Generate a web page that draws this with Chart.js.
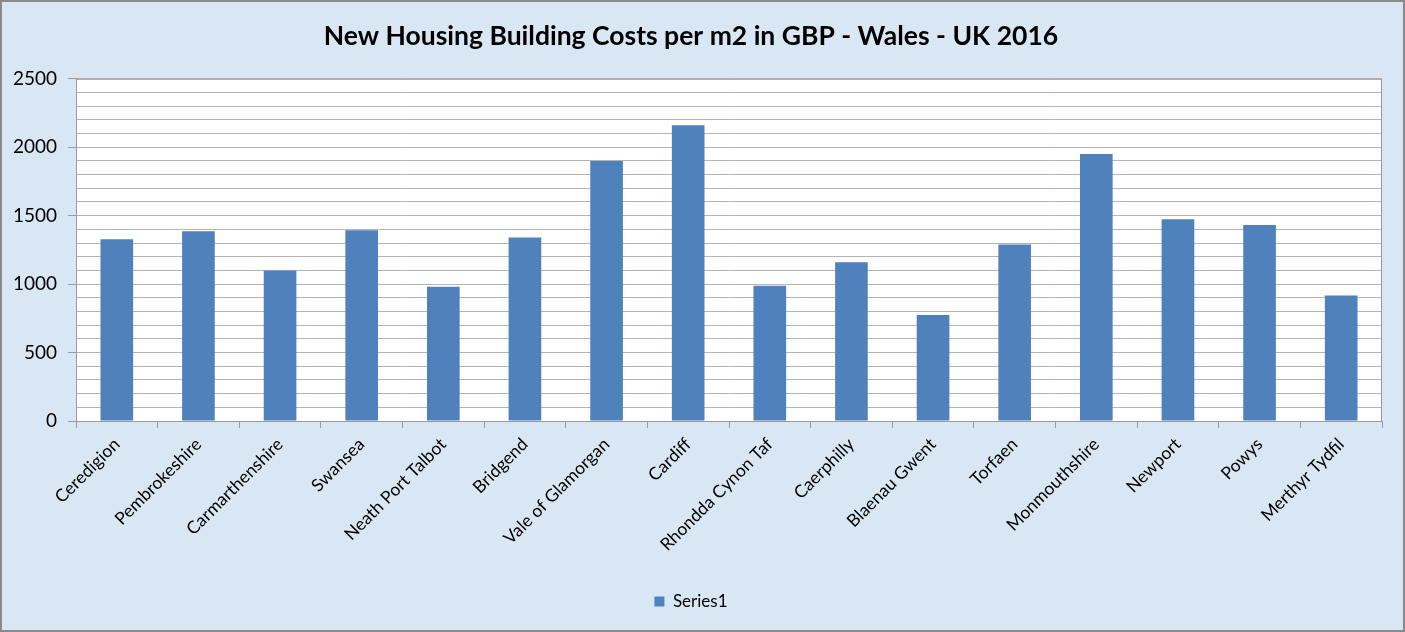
<!DOCTYPE html>
<html>
<head>
<meta charset="utf-8">
<script src="https://cdn.jsdelivr.net/npm/chart.js@4/dist/chart.umd.min.js"></script>
<style>
  body { margin: 0; background: #d9e7f5; }
  #wrap { width: 1405px; height: 632px; }
</style>
</head>
<body>
<div id="wrap"><canvas id="myChart" width="1405" height="632"></canvas></div>
<script>
    //categories and values
    let councils = ['Ceredigion', 'Pembrokeshire', 'Carmarthenshire', 'Swansea', 'Neath Port Talbot', 'Bridgend',
        'Vale of Glamorgan', 'Cardiff', 'Rhondda Cynon Taf', 'Caerphilly', 'Blaenau Gwent', 'Torfaen',
        'Monmouthshire', 'Newport', 'Powys', 'Merthyr Tydfil'];
    let costs = [1328, 1387, 1100, 1393, 980, 1340, 1900, 2160, 988, 1160, 775, 1290, 1950, 1474, 1431, 916];
    let yLabels = [0, 500, 1000, 1500, 2000, 2500];

    let fontName = 'Lato, "Open Sans", sans-serif';

    //paint page background, plot area and frames
    let framePlugin = {
        id: 'frame',
        beforeDraw(chart) {
            let c = chart.ctx;
            let a = chart.chartArea;
            c.save();
            c.fillStyle = '#d9e7f5';
            c.fillRect(0, 0, chart.width, chart.height);
            c.fillStyle = '#ffffff';
            c.fillRect(a.left, a.top, a.right - a.left, a.bottom - a.top);
            c.restore();
        },
        afterDraw(chart) {
            let c = chart.ctx;
            let a = chart.chartArea;
            c.save();
            c.strokeStyle = '#9a9a9a';
            c.lineWidth = 1;
            c.strokeRect(a.left + 0.5, a.top + 0.5, a.right - a.left - 1, a.bottom - a.top);
            c.strokeStyle = '#8a8a8a';
            c.lineWidth = 2;
            c.strokeRect(1, 1, chart.width - 2, chart.height - 2);
            c.restore();
        }
    };

    let ctx = document.getElementById('myChart').getContext('2d');

    let myChart = new Chart(ctx, {
        type: 'bar',
        data: {
            labels: councils,
            datasets: [{
                label: 'Series1',
                data: costs,
                backgroundColor: '#4f81bd',
                barPercentage: 0.4,
                categoryPercentage: 1.0
            }]
        },
        options: {
            responsive: false,
            animation: false,
            layout: { padding: { left: 0, right: 23, top: 0, bottom: 12 } },
            plugins: {
                title: {
                    display: true,
                    text: 'New Housing Building Costs per m2 in GBP - Wales - UK 2016',
                    color: '#000000',
                    font: { family: fontName, size: 26.5, weight: 'bold' },
                    padding: { top: 21, bottom: 26 }
                },
                legend: {
                    position: 'bottom',
                    labels: {
                        color: '#000000',
                        font: { family: fontName, size: 17 },
                        boxWidth: 10,
                        boxHeight: 10,
                        padding: 8
                    }
                },
                tooltip: { enabled: false }
            },
            scales: {
                x: {
                    grid: {
                        offset: true,
                        drawOnChartArea: false,
                        tickLength: 7,
                        tickColor: '#9a9a9a'
                    },
                    border: { color: '#9a9a9a' },
                    ticks: {
                        color: '#000000',
                        font: { family: fontName, size: 17.5 },
                        minRotation: 45,
                        maxRotation: 45,
                        padding: 6
                    },
                    afterFit: function(scale) { scale.height = 164; }
                },
                y: {
                    min: 0,
                    max: 2500,
                    grid: {
                        color: '#b4b4b4',
                        tickLength: 8,
                        tickColor: (context) => {
                            return yLabels.includes(context.tick.value) ? '#9a9a9a' : 'rgba(0,0,0,0)';
                        }
                    },
                    border: { color: '#9a9a9a' },
                    ticks: {
                        stepSize: 100,
                        autoSkip: false,
                        color: '#000000',
                        font: { family: fontName, size: 19 },
                        padding: 11,
                        callback: (value) => {
                            return yLabels.includes(value) ? value : '';
                        }
                    },
                    afterFit: function(scale) { scale.width = 76; }
                }
            }
        },
        plugins: [framePlugin]
    });
</script>
</body>
</html>
